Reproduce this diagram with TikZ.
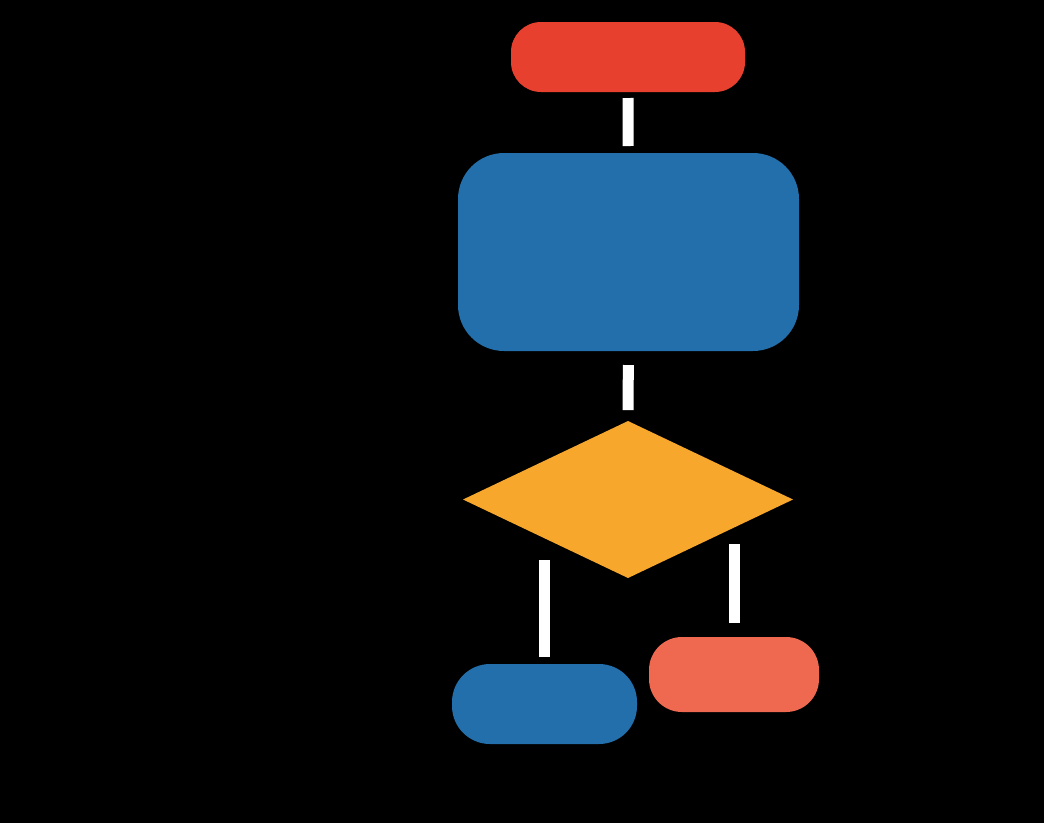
\documentclass[tikz,border=0pt]{standalone}
\usetikzlibrary{shapes.geometric}
\definecolor{topred}{RGB}{232,64,47}
\definecolor{boxblue}{RGB}{35,111,171}
\definecolor{diaorange}{RGB}{247,167,44}
\definecolor{salmon}{RGB}{239,104,80}
\tikzset{
  blk/.style={rectangle, inner sep=0pt, outer sep=0pt, draw=none},
  conn/.style={draw=white, line width=11pt, line cap=butt},
}
\begin{document}
\begin{tikzpicture}[x=1pt,y=-1pt]
\fill[black] (0,0) rectangle (1044,823);
\useasboundingbox (0,0) rectangle (1044,823);
\node[blk, fill=topred, rounded corners=30pt, minimum width=234pt, minimum height=70pt] (start) at (628,57) {};
\node[blk, fill=boxblue, rounded corners=46pt, minimum width=341pt, minimum height=198pt] (proc) at (628.5,252) {};
\node[diamond, inner sep=0pt, outer sep=0pt, draw=none, fill=diaorange, aspect=2.1, minimum width=330pt, minimum height=157pt] (dec) at (628,499.5) {};
\node[blk, fill=boxblue, rounded corners=38pt, minimum width=185pt, minimum height=80pt] (yes) at (544.5,704) {};
\node[blk, fill=salmon, rounded corners=33pt, minimum width=170pt, minimum height=75pt] (no) at (734,674.5) {};
\draw[conn, shorten <=6pt, shorten >=7pt] (start) -- (proc);
\draw[conn, shorten <=14pt, shorten >=11pt] (proc) -- (dec);
\draw[conn, shorten <=7pt, shorten >=60pt] (yes.north) -- (yes.north |- dec.east);
\draw[conn, shorten <=14pt, shorten >=44pt] (no.north) -- (no.north |- dec.east);
\end{tikzpicture}
\end{document}
